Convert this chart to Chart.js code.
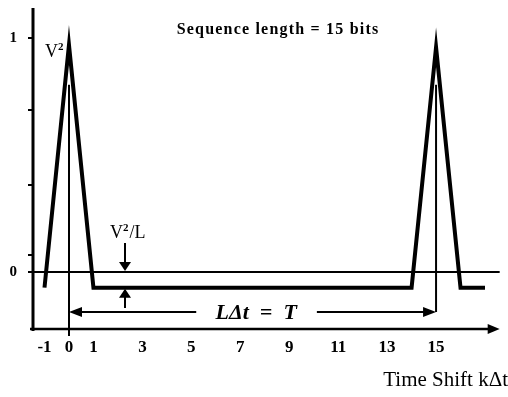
<!DOCTYPE html>
<html><head><meta charset="utf-8">
<script src="https://cdn.jsdelivr.net/npm/chart.js@4"></script>
<style>html,body{margin:0;padding:0;background:#fff}#wrap{width:508px;height:397px}</style>
</head><body><div id="wrap"><canvas id="c" width="508" height="397"></canvas></div>
<script>
// Autocorrelation of a 15-bit PN sequence (normalised to V^2)
const shiftK      = [-1, 0, 1, 14, 15, 16, 17];
const correlation = [-0.067, 0.97, -0.067, -0.067, 0.96, -0.067, -0.067];
const xTickValues = [-1, 0, 1, 3, 5, 7, 9, 11, 13, 15];
const yTickValues = [0, 0.073, 0.372, 0.692, 1];
const yTickLabels = ['0', '', '', '', '1'];
const chartTitle  = 'Sequence length = 15 bits';
const xAxisTitle  = 'Time Shift k\u0394t';
const periodLabel = 'L\u0394t  =  T';

const SERIF = '"Liberation Serif", "Times New Roman", serif';

function arrowHead(ctx, tipX, tipY, dir, len, half) {
  ctx.beginPath();
  if (dir === 'right') { ctx.moveTo(tipX, tipY); ctx.lineTo(tipX - len, tipY - half); ctx.lineTo(tipX - len, tipY + half); }
  if (dir === 'left')  { ctx.moveTo(tipX, tipY); ctx.lineTo(tipX + len, tipY - half); ctx.lineTo(tipX + len, tipY + half); }
  if (dir === 'down')  { ctx.moveTo(tipX, tipY); ctx.lineTo(tipX - half, tipY - len); ctx.lineTo(tipX + half, tipY - len); }
  if (dir === 'up')    { ctx.moveTo(tipX, tipY); ctx.lineTo(tipX - half, tipY + len); ctx.lineTo(tipX + half, tipY + len); }
  ctx.closePath(); ctx.fill();
}
function seg(ctx, x1, y1, x2, y2, w) {
  ctx.lineWidth = w; ctx.beginPath(); ctx.moveTo(x1, y1); ctx.lineTo(x2, y2); ctx.stroke();
}
function supText(ctx, x, y, base, sup, rest) {
  ctx.textAlign = 'left'; ctx.textBaseline = 'alphabetic';
  ctx.font = '18px ' + SERIF; ctx.fillText(base, x, y);
  let w = ctx.measureText(base).width;
  ctx.font = 'bold 11px ' + SERIF; ctx.fillText(sup, x + w, y - 7);
  w += ctx.measureText(sup).width + 1;
  if (rest) { ctx.font = '18px ' + SERIF; ctx.fillText(rest, x + w, y); }
}

const decor = {
  id: 'decor',
  beforeDatasetsDraw(chart) {
    const ctx = chart.ctx, xs = chart.scales.x, ys = chart.scales.y, a = chart.chartArea;
    const X = v => xs.getPixelForValue(v), Y = v => ys.getPixelForValue(v);
    ctx.save();
    ctx.strokeStyle = '#000'; ctx.fillStyle = '#000'; ctx.lineCap = 'butt';
    // y axis
    seg(ctx, a.left, a.top, a.left, a.bottom + 2, 3);
    // x axis with arrow
    seg(ctx, a.left - 3, a.bottom, X(17.6) - 8, a.bottom, 2.5);
    arrowHead(ctx, X(17.6), a.bottom, 'right', 12, 5);
    // zero line
    seg(ctx, a.left, Y(0), X(17.6), Y(0), 2);
    // period markers
    const yArrow = Y(-0.171);
    seg(ctx, X(0), Y(0.8), X(0), a.bottom + 7, 2);
    seg(ctx, X(15), Y(0.8), X(15), yArrow, 2);
    // L dt = T arrow
    seg(ctx, X(0) + 10, yArrow, X(5.2), yArrow, 2);
    arrowHead(ctx, X(0), yArrow, 'left', 13, 5);
    seg(ctx, X(10.13), yArrow, X(15) - 10, yArrow, 2);
    arrowHead(ctx, X(15), yArrow, 'right', 13, 5);
    ctx.font = 'bold italic 22px ' + SERIF; ctx.textAlign = 'center'; ctx.textBaseline = 'middle';
    ctx.fillText(periodLabel, X(7.65), yArrow + 1);
    // V^2/L arrows
    const xa = X(2.29);
    seg(ctx, xa, Y(0.124), xa, Y(0) - 8, 2);
    arrowHead(ctx, xa, Y(0) - 1, 'down', 9, 6);
    seg(ctx, xa, Y(-0.154), xa, Y(-0.067) + 8, 2);
    arrowHead(ctx, xa, Y(-0.067) + 1, 'up', 9, 6);
    // labels
    supText(ctx, 45, 57, 'V', '2', '');
    supText(ctx, 110, 238, 'V', '2', '/L');
    ctx.font = 'bold 16px ' + SERIF; ctx.textAlign = 'center'; ctx.textBaseline = 'alphabetic';
    ctx.letterSpacing = '1.2px';
    ctx.fillText(chartTitle, 278, 34);
    ctx.letterSpacing = '0px';
    ctx.restore();
  }
};

new Chart(document.getElementById('c'), {
  type: 'line',
  data: {
    datasets: [{
      data: shiftK.map((k, i) => ({ x: k, y: correlation[i] })),
      borderColor: '#000', borderWidth: 4, pointRadius: 0, tension: 0,
      borderJoinStyle: 'miter', fill: false
    }]
  },
  options: {
    responsive: false, animation: false,
    layout: { padding: { top: 8, left: 0, right: 0, bottom: 0 } },
    plugins: { legend: { display: false }, tooltip: { enabled: false } },
    scales: {
      x: {
        type: 'linear', min: -1.47, max: 17.94,
        afterBuildTicks: s => { s.ticks = xTickValues.map(v => ({ value: v })); },
        afterFit: s => { s.height = 68; s.paddingLeft = 0; s.paddingRight = 0; },
        grid: { display: false, drawTicks: false },
        border: { display: false },
        ticks: { autoSkip: false, maxRotation: 0, padding: 8, color: '#000',
                 font: { family: SERIF, size: 17, weight: 'bold' } },
        title: { display: true, text: xAxisTitle, align: 'end', color: '#000',
                 font: { family: SERIF, size: 21 }, padding: { top: 0, bottom: 4 } }
      },
      y: {
        type: 'linear', min: -0.2436, max: 1.128,
        afterBuildTicks: s => { s.ticks = yTickValues.map(v => ({ value: v })); },
        afterFit: s => { s.width = 33; s.paddingTop = 0; s.paddingBottom = 0; },
        grid: { drawOnChartArea: false, drawTicks: true, tickLength: 5, color: '#000', lineWidth: 2 },
        border: { display: false },
        ticks: { padding: 11, color: '#000', font: { family: SERIF, size: 15, weight: 'bold' },
                 callback: (v) => yTickLabels[yTickValues.indexOf(v)] ?? '' }
      }
    }
  },
  plugins: [decor]
});
</script></body></html>
